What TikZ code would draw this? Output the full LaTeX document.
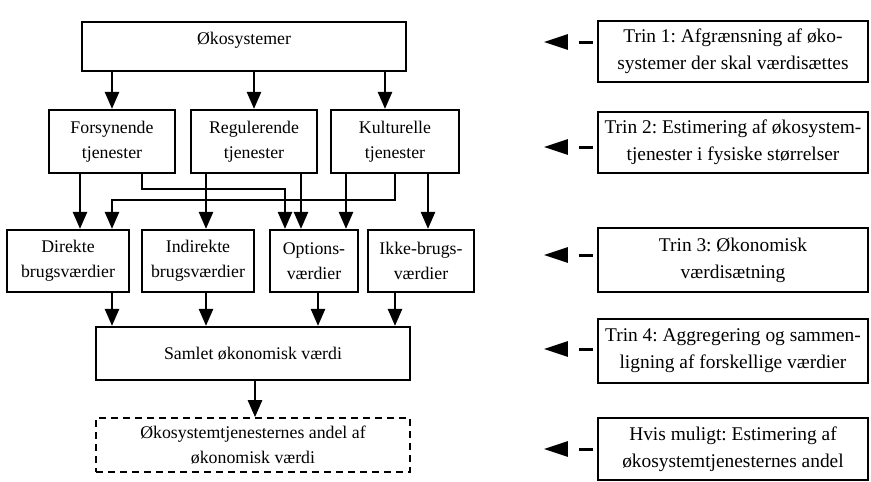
\documentclass[tikz,border=0pt]{standalone}
\usepackage{fontspec}
\setmainfont{Liberation Serif}
\frenchspacing
\usetikzlibrary{arrows.meta}

\begin{document}
\begin{tikzpicture}[x=1pt, y=-1pt,
  box/.style={draw, line width=2.2pt, align=center, inner sep=2pt,
    font=\fontsize{17.8}{25}\selectfont},
  trinbox/.style={draw, line width=2.2pt, align=center, inner sep=2pt,
    minimum width=270pt, font=\fontsize{19.4}{27}\selectfont},
  flow/.style={line width=2.6pt, -{Triangle[length=17pt, width=14pt]}},
  steparrow/.style={line width=3pt, -{Triangle[length=24pt, width=15pt]},
    dash pattern=on 14pt off 17pt, dash phase=27pt}]
  \useasboundingbox (0,0) rectangle (871,482);

  % venstre side: trin for trin
  \node[box, minimum width=324pt, inner ysep=0pt, text height=22pt, text depth=27pt]
    (oko) at (244,21) [anchor=north] {Økosystemer};
  \node[box, minimum width=126pt, minimum height=63pt] (fors) at (112,141.5) {Forsynende\\tjenester};
  \node[box, minimum width=126pt, minimum height=63pt] (reg)  at (254,141.5) {Regulerende\\tjenester};
  \node[box, minimum width=128pt, minimum height=63pt] (kul)  at (395,141.5) {Kulturelle\\tjenester};

  \node[box, minimum width=122pt, minimum height=62pt] (dir)  at (68,261)  {Direkte\\brugsværdier};
  \node[box, minimum width=112pt, minimum height=62pt] (ind)  at (198,261) {Indirekte\\brugsværdier};
  \node[box, minimum width=88pt,  minimum height=62pt] (opt)  at (314,261) {Options-\\værdier};
  \node[box, minimum width=106pt, minimum height=62pt] (ikke) at (421,261) {Ikke-brugs-\\værdier};

  \node[box, minimum width=314pt, minimum height=53pt] (sam) at (253,353.5) {Samlet økonomisk værdi};
  \node[box, dash pattern=on 7pt off 5pt, line width=1.6pt, minimum width=314pt, minimum height=54pt]
    (andel) at (253,445) {Økosystemtjenesternes andel af\\økonomisk værdi};

  % højre side: beskrivelse af trinnene
  \node[trinbox, minimum height=61pt] (trin1) at (733,51.5) {Trin 1: Afgrænsning af øko-\\systemer der skal værdisættes};
  \node[trinbox, minimum height=61pt] (trin2) at (733,142.5) {Trin 2: Estimering af økosystem-\\tjenester i fysiske størrelser};
  \node[trinbox, minimum height=64pt] (trin3) at (733,260) {Trin 3: Økonomisk\\værdisætning};
  \node[trinbox, minimum height=64pt] (trin4) at (733,351) {Trin 4: Aggregering og sammen-\\ligning af forskellige værdier};
  \node[trinbox, minimum height=62pt] (hvis)  at (733,449) {Hvis muligt: Estimering af\\økosystemtjenesternes andel};

  % søjler og rækker for pilene
  \coordinate (xa) at (80,0);
  \coordinate (xb) at (142,0);
  \coordinate (xc) at (285,0);
  \coordinate (xd) at (395,0);
  \coordinate (xe) at (112,0);
  \coordinate (xf) at (206,0);
  \coordinate (xg) at (301,0);
  \coordinate (xh) at (346,0);
  \coordinate (xi) at (428,0);
  \coordinate (xj) at (318,0);
  \coordinate (xk) at (385,0);
  \coordinate (xl) at (255,0);
  \coordinate (ya) at (0,189);
  \coordinate (yb) at (0,200);

  \draw[flow] (oko.south -| fors.north) -- (fors.north);
  \draw[flow] (oko.south -| reg.north) -- (reg.north);
  \draw[flow] (oko.south -| xk) -- (kul.north -| xk);

  \draw[flow] (fors.south -| xa) -- (dir.north -| xa);
  \draw[flow] (fors.south -| xb) |- (ya -| xc) -- (opt.north -| xc);
  \draw[flow] (kul.south -| xd) |- (yb -| xe) -- (dir.north -| xe);
  \draw[flow] (reg.south -| xf) -- (ind.north -| xf);
  \draw[flow] (reg.south -| xg) -- (opt.north -| xg);
  \draw[flow] (kul.south -| xh) -- (opt.north -| xh);
  \draw[flow] (kul.south -| xi) -- (ikke.north -| xi);

  \draw[flow] (dir.south -| xe) -- (sam.north -| xe);
  \draw[flow] (ind.south -| xf) -- (sam.north -| xf);
  \draw[flow] (opt.south -| xj) -- (sam.north -| xj);
  \draw[flow] (ikke.south -| xd) -- (sam.north -| xd);
  \draw[flow] (sam.south -| xl) -- (andel.north -| xl);

  % stiplede pile mod venstre
  \draw[steparrow] ([yshift=9.5pt]trin1.west) -- ++(-53,0);
  \draw[steparrow] ([yshift=-4.5pt]trin2.west) -- ++(-53,0);
  \draw[steparrow] ([yshift=5pt]trin3.west) -- ++(-53,0);
  \draw[steparrow] ([yshift=2pt]trin4.west) -- ++(-53,0);
  \draw[steparrow] (hvis.west) -- ++(-53,0);
\end{tikzpicture}
\end{document}
